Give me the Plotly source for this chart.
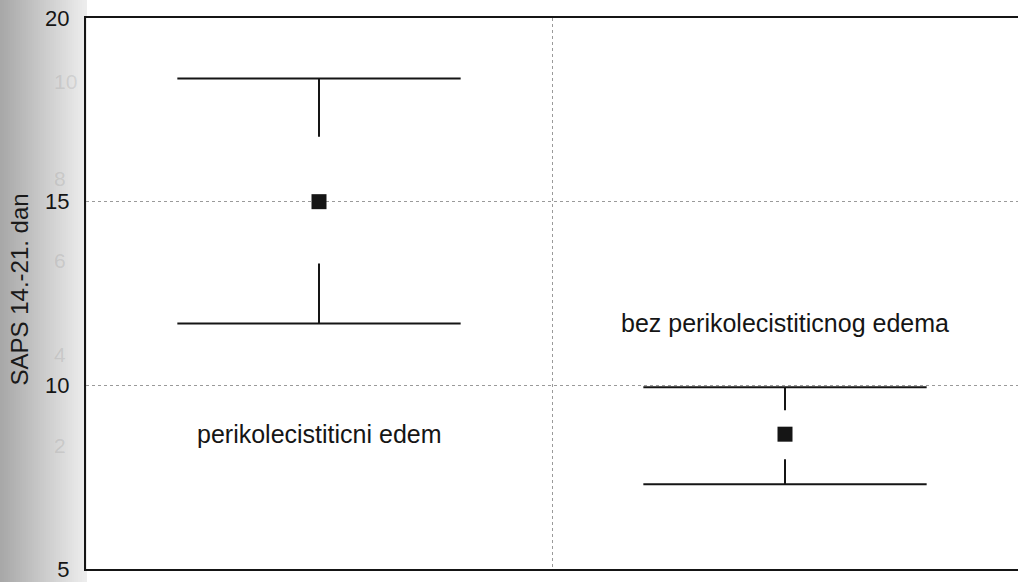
import plotly.graph_objects as go

# groups and values
groups = ["perikolecistiticni edem", "bez perikolecistiticnog edema"]
means = [15.0, 8.67]
upper = [18.35, 9.95]
lower = [11.68, 7.31]
upper_whisker_end = [16.77, 9.32]
lower_whisker_end = [13.32, 7.99]

y_ticks = [5, 10, 15, 20]
ghost_ticks = ["10", "8", "6", "4", "2"]   # bleed-through from the other page

INK = "#151515"
FONT = "Liberation Sans, Arial, sans-serif"
CAP_HW = 0.304

xs = list(range(len(groups)))

cap_x, cap_y, wh_x, wh_y = [], [], [], []
for i in xs:
    for v in (upper[i], lower[i]):
        cap_x += [i - CAP_HW, i + CAP_HW, None]
        cap_y += [v, v, None]
    wh_x += [i, i, None, i, i, None]
    wh_y += [upper[i], upper_whisker_end[i], None, lower_whisker_end[i], lower[i], None]

fig = go.Figure()
fig.add_trace(go.Scatter(x=cap_x, y=cap_y, mode="lines",
                         line=dict(color=INK, width=2), hoverinfo="skip"))
fig.add_trace(go.Scatter(x=wh_x, y=wh_y, mode="lines",
                         line=dict(color=INK, width=2), hoverinfo="skip"))
fig.add_trace(go.Scatter(x=xs, y=means, mode="markers",
                         marker=dict(symbol="square", size=15, color=INK, line_width=0),
                         text=groups, hovertemplate="%{text}: %{y}<extra></extra>"))

# scan shadow on the left margin
shapes = []
n = 43
left = -86 / 932
for k in range(n):
    x0 = left + k * (-left) / n
    px = k * 2
    g = int(168 + 62 * min(px / 75, 1) + (8 * (px - 75) / 11 if px > 75 else 0))
    shapes.append(dict(type="rect", xref="paper", yref="paper",
                       x0=x0, x1=x0 + (-left) / n + 0.001, y0=-0.03, y1=1.04,
                       fillcolor=f"rgb({g},{g},{g})", line_width=0, layer="below"))

annotations = [
    dict(x=0, y=8.67, text=groups[0], showarrow=False,
         font=dict(family=FONT, size=25, color=INK), xanchor="center"),
    dict(x=1, y=11.71, text=groups[1], showarrow=False,
         font=dict(family=FONT, size=25, color=INK), xanchor="center"),
    dict(x=0, y=0.5, xref="paper", yref="paper", text="SAPS 14.-21. dan",
         textangle=-90, showarrow=False, xanchor="center", yanchor="middle",
         xshift=-67, yshift=4,
         font=dict(family=FONT, size=24, color="#1a1a1a")),
]
ghost_y = [0.91, 0.734, 0.559, 0.39, 0.2]
for t, gy in zip(ghost_ticks, ghost_y):
    annotations.append(dict(x=0, y=gy, xref="paper", yref="paper", text=t,
                            showarrow=False, xshift=-34,
                            font=dict(family=FONT, size=21, color="rgba(110,110,110,0.18)")))

fig.update_layout(
    width=1018, height=582,
    margin=dict(l=86, r=0, t=18, b=13),
    paper_bgcolor="white", plot_bgcolor="white",
    showlegend=False,
    shapes=shapes,
    annotations=annotations,
    xaxis=dict(range=[-0.5, 1.5], tickvals=[0.5], ticktext=[""], ticks="",
               showgrid=True, gridcolor="#9a9a9a", griddash="dot", gridwidth=1,
               showline=True, linecolor=INK, linewidth=2, mirror=True, zeroline=False),
    yaxis=dict(range=[5, 20], tickvals=y_ticks, ticks="",
               showgrid=True, gridcolor="#9a9a9a", griddash="dot", gridwidth=1,
               showline=True, linecolor=INK, linewidth=2, zeroline=False,
               tickfont=dict(family=FONT, size=22, color=INK), ticklabelstandoff=10),
)

fig.write_html("out.html", config={"displayModeBar": False},
               post_script="document.body.style.margin='0';document.body.style.overflow='hidden';")
